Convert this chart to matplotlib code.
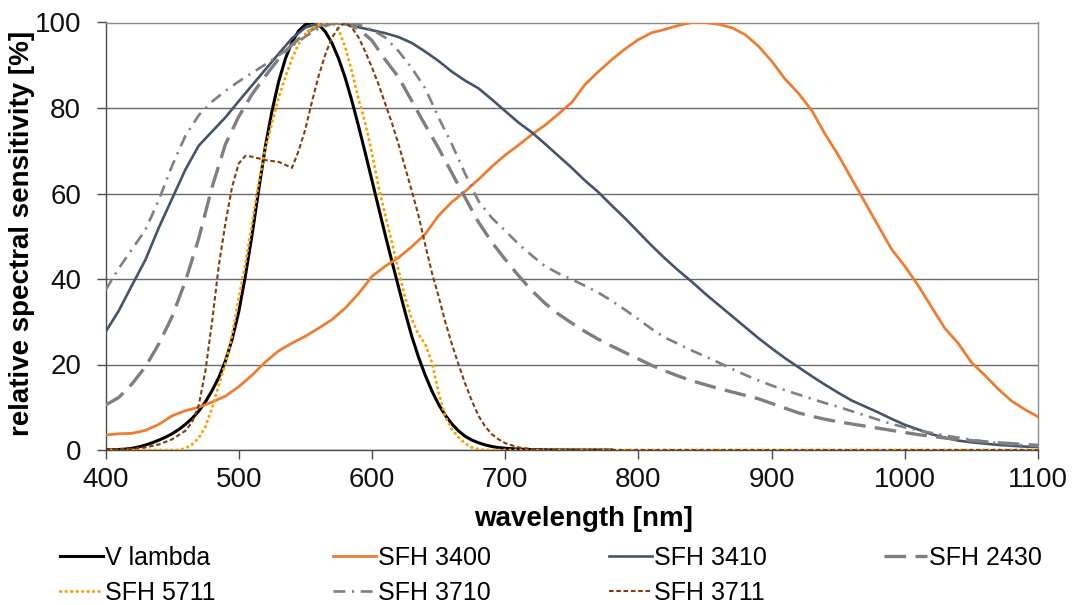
import matplotlib
matplotlib.use("Agg")
import matplotlib.pyplot as plt

plt.rcParams['font.family'] = ['Liberation Sans', 'DejaVu Sans']

# ---------------- data ----------------
v_wl = [400, 405, 410, 415, 420, 425, 430, 435, 440, 445, 450, 455, 460, 465, 470, 475,
        480, 485, 490, 495, 500, 505, 510, 515, 520, 525, 530, 535, 540, 545, 550, 555,
        560, 565, 570, 575, 580, 585, 590, 595, 600, 605, 610, 615, 620, 625, 630, 635,
        640, 645, 650, 655, 660, 665, 670, 675, 680, 685, 690, 695, 700, 710, 720, 730,
        740, 750, 760, 780]
v_val = [0.04, 0.06, 0.12, 0.22, 0.40, 0.73, 1.16, 1.68, 2.30, 2.98, 3.80, 4.80, 6.00, 7.39,
         9.10, 11.26, 13.90, 16.93, 20.80, 25.86, 32.30, 40.73, 50.30, 60.82, 71.00, 79.32,
         86.20, 91.49, 95.40, 98.03, 99.50, 100.0, 99.50, 97.86, 95.20, 91.54, 87.00, 81.63,
         75.70, 69.49, 63.10, 56.68, 50.30, 44.12, 38.10, 32.10, 26.50, 21.70, 17.50, 13.82,
         10.70, 8.16, 6.10, 4.46, 3.20, 2.32, 1.70, 1.19, 0.82, 0.57, 0.41, 0.21, 0.10, 0.05,
         0.02, 0.01, 0.0, 0.0]

s3400_wl = list(range(400, 1101, 10))
s3400_val = [3.5, 3.8, 3.9, 4.6, 6.0, 8.0, 9.2, 10.0, 11.2, 12.6, 14.8, 17.5, 20.6, 23.2, 25.0,
             26.6, 28.5, 30.5, 33.2, 36.6, 40.6, 43.0, 45.0, 47.6, 50.5, 54.8, 58.0, 60.5, 63.3,
             66.3, 69.0, 71.3, 73.8, 76.0, 78.6, 81.3, 85.5, 88.5, 91.3, 93.8, 96.0, 97.6, 98.4,
             99.3, 100.0, 100.0, 99.6, 98.8, 97.2, 94.5, 91.0, 86.8, 83.5, 79.5, 74.0, 69.0, 63.5,
             58.0, 52.5, 47.0, 43.0, 38.5, 33.5, 28.5, 25.0, 20.5, 17.5, 14.3, 11.5, 9.5, 7.8]

s3410_wl = list(range(400, 1101, 10))
s3410_val = [27.6, 32.6, 38.6, 44.5, 52.0, 58.8, 65.6, 71.2, 74.5, 77.8, 81.6, 85.3, 89.0, 92.7,
             96.3, 98.8, 99.8, 100.0, 99.6, 98.9, 98.2, 97.5, 96.6, 95.2, 93.2, 91.0, 88.5, 86.4,
             84.6, 82.0, 79.3, 76.6, 74.3, 71.6, 68.8, 66.0, 63.0, 60.3, 57.2, 54.2, 51.0, 47.8,
             44.8, 42.0, 39.4, 36.6, 34.0, 31.4, 28.8, 26.2, 23.8, 21.5, 19.4, 17.3, 15.3, 13.4,
             11.6, 10.2, 8.8, 7.3, 5.9, 4.8, 3.7, 2.9, 2.2, 1.8, 1.5, 1.2, 1.0, 0.8, 0.7]

s2430_wl = list(range(400, 1101, 10))
s2430_val = [10.5, 12.3, 15.5, 19.5, 24.8, 31.2, 39.5, 49.5, 61.5, 71.5, 78.0, 83.2, 87.5, 91.5,
             94.8, 97.5, 99.2, 100.0, 99.8, 98.5, 95.8, 91.3, 87.2, 81.6, 76.0, 70.6, 64.8, 59.0,
             53.3, 48.6, 44.6, 40.8, 37.3, 34.3, 31.8, 29.7, 27.7, 25.9, 24.3, 22.8, 21.3, 19.8,
             18.5, 17.3, 16.2, 15.3, 14.4, 13.6, 12.8, 12.0, 10.9, 9.8, 8.7, 7.9, 7.2, 6.6, 6.1,
             5.6, 5.1, 4.6, 4.1, 3.6, 3.2, 2.8, 2.5, 2.2, 1.9, 1.7, 1.5, 1.3, 1.1]

s5711_wl = [400, 450, 455, 460, 465, 470, 475, 480, 485, 490, 495, 500, 505, 510, 515, 520, 525,
            530, 535, 540, 545, 550, 555, 560, 565, 570, 575, 580, 585, 590, 595, 600, 605, 610,
            615, 620, 625, 630, 635, 640, 645, 650, 655, 660, 665, 670, 675, 680, 685, 700, 800,
            900, 1000, 1100]
s5711_val = [0.0, 0.0, 0.0, 0.4, 1.3, 2.8, 5.5, 9.8, 15.2, 20.2, 26.8, 35.5, 43.5, 53.0, 62.5,
             70.5, 76.5, 82.5, 87.2, 91.5, 95.0, 97.3, 98.6, 99.5, 100.0, 100.0, 98.3, 94.2, 88.5,
             82.0, 76.5, 69.5, 61.5, 55.0, 48.5, 42.0, 35.5, 30.5, 27.0, 24.8, 20.5, 13.5, 7.8,
             4.8, 3.0, 1.5, 0.6, 0.2, 0.0, 0.0, 0.0, 0.0, 0.0, 0.0]

s3710_wl = list(range(400, 1101, 10))
s3710_val = [37.4, 42.5, 47.0, 51.5, 58.5, 66.5, 73.5, 78.3, 81.5, 84.0, 86.2, 88.2, 90.2, 92.3,
             94.5, 96.7, 98.6, 99.7, 100.0, 99.5, 98.3, 96.5, 93.3, 89.3, 84.6, 77.8, 71.5, 64.6,
             58.2, 54.3, 51.3, 48.2, 45.5, 43.0, 41.3, 39.9, 38.4, 36.8, 34.9, 32.8, 30.6, 28.3,
             26.3, 24.8, 23.3, 21.9, 20.5, 19.0, 17.6, 16.3, 15.1, 14.0, 13.0, 12.0, 11.0, 10.1,
             9.1, 8.1, 7.1, 6.1, 5.3, 4.6, 4.0, 3.4, 2.9, 2.4, 2.0, 1.6, 1.3, 1.1, 0.9]

s3711_wl = [400, 420, 430, 440, 450, 460, 465, 470, 475, 480, 485, 490, 495, 500, 505, 510, 520,
            530, 540, 545, 550, 555, 560, 565, 570, 575, 580, 585, 590, 595, 600, 605, 610, 615,
            620, 625, 630, 635, 640, 645, 650, 655, 660, 665, 670, 675, 680, 685, 690, 695, 700,
            710, 720, 730, 800, 900, 1000, 1100]
s3711_val = [0.0, 0.3, 0.6, 1.3, 2.5, 4.5, 6.5, 10.5, 18.5, 30.0, 43.0, 53.0, 61.5, 67.0, 68.8,
             68.6, 67.8, 67.4, 66.0, 70.0, 75.0, 81.5, 87.5, 92.5, 96.5, 98.8, 100.0, 98.8, 96.5,
             93.2, 89.5, 85.5, 81.0, 76.5, 71.5, 66.0, 60.5, 54.8, 48.0, 41.5, 36.0, 30.0, 24.8,
             20.0, 15.5, 11.5, 8.0, 5.5, 3.7, 2.5, 1.6, 0.6, 0.2, 0.0, 0.0, 0.0, 0.0, 0.0]

x_ticks = [400, 500, 600, 700, 800, 900, 1000, 1100]
y_ticks = [0, 20, 40, 60, 80, 100]

# ---------------- figure ----------------
W, H = 1078, 605
fig = plt.figure(figsize=(W / 100, H / 100), dpi=100)
ax = fig.add_axes([105.5 / W, (H - 450) / H, (1038 - 105.5) / W, (450 - 22.5) / H])

l_v, = ax.plot(v_wl, v_val, color='black', lw=2.2, label='V lambda', zorder=3)
l_3400, = ax.plot(s3400_wl, s3400_val, color='#ED7D31', lw=2.0, label='SFH 3400', zorder=3)
l_3410, = ax.plot(s3410_wl, s3410_val, color='#44546A', lw=1.9, label='SFH 3410', zorder=3)
l_2430, = ax.plot(s2430_wl, s2430_val, color='#7F7F7F', lw=2.4,
                  linestyle=(0, (6.5, 2.8)), label='SFH 2430', zorder=3)
l_5711, = ax.plot(s5711_wl, s5711_val, color='#FFA000', lw=2.2,
                  linestyle=(0, (0.1, 1.7)), dash_capstyle='round', label='SFH 5711', zorder=3)
l_3710, = ax.plot(s3710_wl, s3710_val, color='#808080', lw=1.9,
                  linestyle=(0, (4.5, 2.5, 0.8, 2.5)), label='SFH 3710', zorder=3)
l_3711, = ax.plot(s3711_wl, s3711_val, color='#843C0C', lw=1.5,
                  linestyle=(0, (2.2, 1.3)), label='SFH 3711', zorder=3)

ax.set_xlim(400, 1100)
ax.set_ylim(0, 100)
ax.set_xticks(x_ticks)
ax.set_yticks(y_ticks)
ax.yaxis.grid(True, color='#6a6a6a', lw=1.0)
ax.set_axisbelow(True)
for side in ['left', 'bottom']:
    ax.spines[side].set_color('#4a4a4a')
    ax.spines[side].set_linewidth(1.0)
for side in ['top', 'right']:
    ax.spines[side].set_color('#8c8c8c')
    ax.spines[side].set_linewidth(1.0)
ax.tick_params(axis='both', direction='out', length=6.5, width=1.0, color='#4a4a4a',
               labelsize=20, labelcolor='#111111')
ax.tick_params(axis='x', pad=6)
ax.tick_params(axis='y', pad=11)

fig.text(584 / W, 1 - 526 / H, 'wavelength [nm]', fontsize=20, fontweight='bold',
         ha='center', va='baseline')
fig.text(22 / W, 1 - 233 / H, 'relative spectral sensitivity [%]', fontsize=20,
         fontweight='bold', rotation=90, ha='center', va='center')

handles = [l_v, l_5711, l_3400, l_3710, l_3410, l_3711, l_2430]
labels = [h.get_label() for h in handles]
fig.legend(handles, labels, ncol=4, loc='upper left', bbox_to_anchor=(60 / W, 1 - 546 / H),
           frameon=False, fontsize=18, handlelength=1.72, handletextpad=0.08,
           columnspacing=4.7, borderaxespad=0, borderpad=0, labelspacing=0.42)

fig.savefig('out.png', dpi=100)
